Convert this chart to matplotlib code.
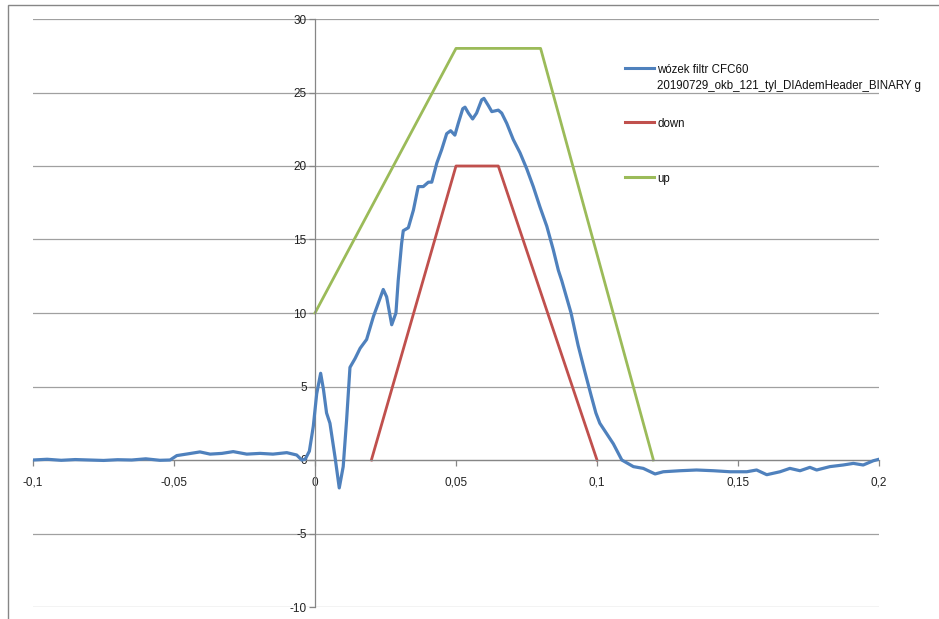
import matplotlib

matplotlib.use("Agg")
import matplotlib.pyplot as plt
from matplotlib.lines import Line2D
from matplotlib.patches import Rectangle

plt.rcParams["font.family"] = ["Liberation Sans", "DejaVu Sans"]

# ===== DATA =====
blue_label = "wózek filtr CFC60\n20190729_okb_121_tyl_DIAdemHeader_BINARY g"
blue_x = [
    -0.100, -0.095, -0.090, -0.085, -0.080, -0.075, -0.070, -0.065, -0.060, -0.055,
    -0.0514, -0.049, -0.045, -0.0408, -0.0372, -0.033, -0.029, -0.0242, -0.0195, -0.0149,
    -0.010, -0.0065, -0.0047, -0.0035, -0.0020, -0.0006, 0.0006, 0.0020, 0.0030, 0.0041,
    0.0053, 0.0071, 0.0086, 0.0100, 0.0112, 0.0124, 0.0142, 0.0160, 0.0183, 0.0207,
    0.0225, 0.0242, 0.0254, 0.0272, 0.0287, 0.0295, 0.0307, 0.0313, 0.0331, 0.0349,
    0.0366, 0.0384, 0.0402, 0.0414, 0.0432, 0.0449, 0.0467, 0.0481, 0.0496, 0.0508,
    0.0524, 0.0532, 0.0544, 0.0559, 0.0573, 0.0591, 0.0599, 0.0615, 0.0627, 0.0650,
    0.0662, 0.0680, 0.0703, 0.0727, 0.0751, 0.0774, 0.0798, 0.0822, 0.0845, 0.0863,
    0.0875, 0.0887, 0.0908, 0.0933, 0.0957, 0.0979, 0.0996, 0.1010, 0.1058, 0.1088,
    0.1129, 0.1164, 0.1206, 0.1235, 0.1294, 0.1353, 0.1413, 0.1472, 0.1531, 0.1566,
    0.1602, 0.1649, 0.1684, 0.1720, 0.1755, 0.1779, 0.1826, 0.1873, 0.1909, 0.1944,
    0.1980, 0.2000,
]
blue_y = [
    0.00, 0.05, -0.02, 0.03, 0.00, -0.03, 0.02, 0.00, 0.08, -0.02,
    0.00, 0.30, 0.42, 0.55, 0.40, 0.45, 0.57, 0.40, 0.45, 0.40,
    0.50, 0.34, 0.00, 0.05, 0.60, 2.3, 4.5, 5.9, 4.8, 3.2,
    2.5, 0.2, -1.9, -0.45, 2.7, 6.3, 6.9, 7.6, 8.2, 9.75,
    10.7, 11.6, 11.1, 9.2, 10.0, 12.2, 14.7, 15.6, 15.8, 17.0,
    18.6, 18.6, 18.9, 18.9, 20.2, 21.1, 22.2, 22.4, 22.1, 22.9,
    23.9, 24.0, 23.6, 23.2, 23.6, 24.5, 24.6, 24.1, 23.7, 23.8,
    23.6, 22.9, 21.8, 20.9, 19.8, 18.6, 17.2, 15.9, 14.3, 12.9,
    12.2, 11.4, 10.0, 7.8, 6.0, 4.4, 3.2, 2.5, 1.1, 0.0,
    -0.45, -0.57, -0.95, -0.8, -0.73, -0.68, -0.73, -0.8, -0.8, -0.68,
    -1.0, -0.8, -0.57, -0.73, -0.5, -0.68, -0.45, -0.34, -0.23, -0.34,
    -0.05, 0.05,
]

down_x = [0.02, 0.05, 0.065, 0.10]
down_y = [0, 20, 20, 0]

up_x = [0.0, 0.05, 0.08, 0.12]
up_y = [10, 28, 28, 0]

x_ticks = [-0.1, -0.05, 0, 0.05, 0.1, 0.15, 0.2]
x_tick_labels = ["-0,1", "-0,05", "0", "0,05", "0,1", "0,15", "0,2"]
y_ticks = [-10, -5, 0, 5, 10, 15, 20, 25, 30]
y_tick_labels = ["-10", "-5", "0", "5", "10", "15", "20", "25", "30"]

BLUE = "#4F81BD"
RED = "#C0504D"
GREEN = "#9BBB59"
AXIS_GRAY = "#868686"
GRID_GRAY = "#a0a0a0"

# ===== PLOT =====
W, H = 939, 619
fig = plt.figure(figsize=(W / 100, H / 100), dpi=100)
ax = fig.add_axes([33 / W, (H - 607) / H, 846 / W, 588 / H])

ax.plot(blue_x, blue_y, color=BLUE, lw=2.3, solid_joinstyle="round", zorder=3)
ax.plot(down_x, down_y, color=RED, lw=2.0, zorder=2)
ax.plot(up_x, up_y, color=GREEN, lw=2.0, zorder=2)

ax.set_xlim(-0.1, 0.2)
ax.set_ylim(-10, 30)
ax.set_xticks(x_ticks)
ax.set_xticklabels(x_tick_labels)
ax.set_yticks(y_ticks)
ax.set_yticklabels(y_tick_labels)

ax.yaxis.grid(True, color=GRID_GRAY, lw=0.9)
for gl in ax.yaxis.get_gridlines():
    gl.set_clip_on(False)
ax.xaxis.grid(False)
ax.set_axisbelow(True)

ax.spines["left"].set_position(("data", 0))
ax.spines["bottom"].set_position(("data", 0))
ax.spines["top"].set_visible(False)
ax.spines["right"].set_visible(False)
for s in ("left", "bottom"):
    ax.spines[s].set_color(AXIS_GRAY)
    ax.spines[s].set_linewidth(0.9)

ax.tick_params(axis="both", colors=AXIS_GRAY, labelcolor="#222222",
               labelsize=8.5, length=4, width=0.9, direction="out")
ax.tick_params(axis="x", pad=8)
ax.tick_params(axis="y", pad=2)
ax.patch.set_alpha(0)

# chart border (cut off at right and bottom)
fig.add_artist(Rectangle((8 / W, -0.1), 1.2, (H - 5) / H + 0.1,
                         transform=fig.transFigure, fill=False,
                         edgecolor=AXIS_GRAY, lw=1.0))

# legend drawn at Excel-like positions
legend_items = [
    (BLUE, blue_label, 68),
    (RED, "down", 122),
    (GREEN, "up", 177),
]
for color, label, py in legend_items:
    fy = (H - py) / H
    fig.add_artist(Line2D([625 / W, 654 / W], [fy, fy], color=color, lw=2.2,
                          transform=fig.transFigure))
    fig.text(657 / W, fy + 4 / H, label, fontsize=8.3, color="#111111",
             ha="left", va="top", linespacing=1.4)

fig.savefig("out.png", dpi=100)
